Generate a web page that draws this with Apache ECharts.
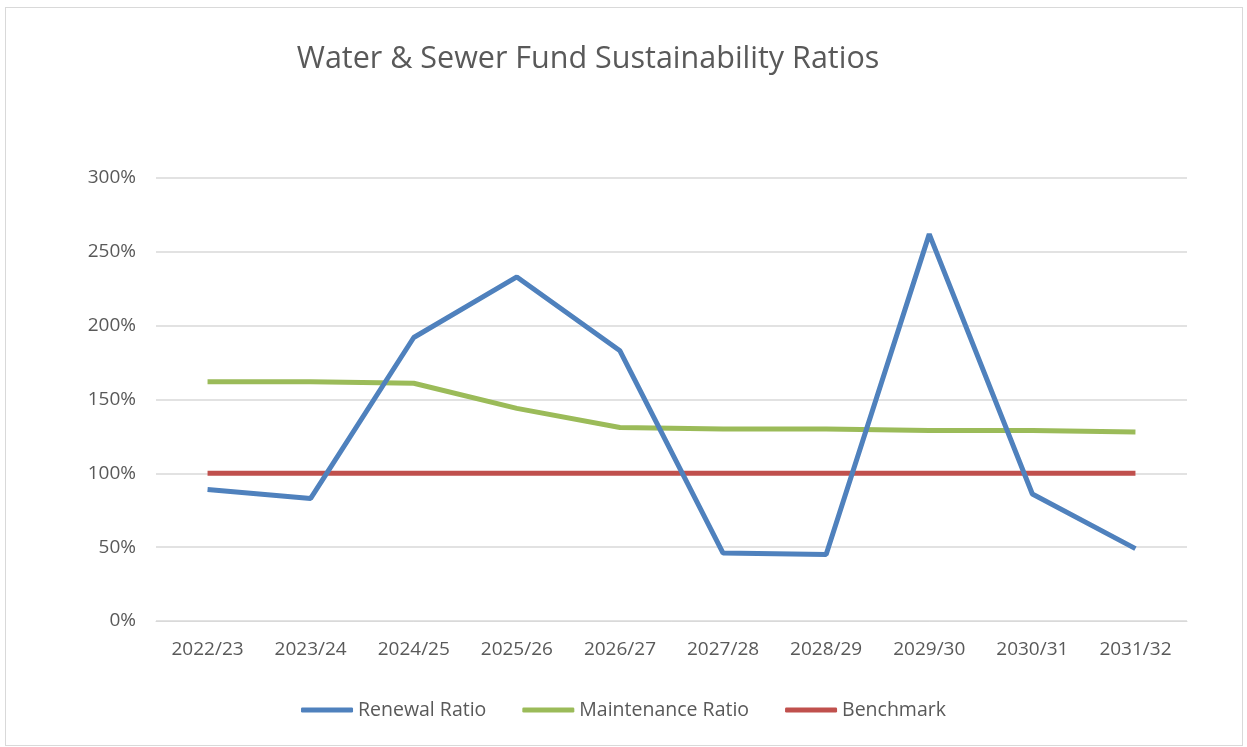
<!DOCTYPE html>
<html>
<head>
<meta charset="utf-8">
<script src="https://cdn.jsdelivr.net/npm/echarts@6/dist/echarts.min.js"></script>
<style>
html,body{margin:0;padding:0;background:#fff;}
#frame{position:absolute;left:5px;top:7px;width:1236px;height:737px;border:1px solid #d9d9d9;}
#chart{position:absolute;left:0;top:0;width:1247px;height:747px;}
</style>
</head>
<body>
<div id="frame"></div>
<div id="chart"></div>
<script>
var categories = ['2022/23','2023/24','2024/25','2025/26','2026/27','2027/28','2028/29','2029/30','2030/31','2031/32'];
var renewal = [89, 83, 192, 233, 183, 46, 45, 262, 86, 49];
var maintenance = [162, 162, 161, 144, 131, 130, 130, 129, 129, 128];
var benchmark = [100, 100, 100, 100, 100, 100, 100, 100, 100, 100];

var myChart = echarts.init(document.getElementById('chart'));
var font = '"Open Sans", sans-serif';
var option = {
    animation: false,
    title: {
        text: 'Water & Sewer Fund Sustainability Ratios',
        left: 583,
        top: 39,
        textAlign: 'center',
        textStyle: {fontFamily: font, fontSize: 30.5, fontWeight: 'normal', color: '#595959'}
    },
    legend: {
        bottom: 22,
        left: 'center',
        itemWidth: 52,
        itemHeight: 5,
        itemGap: 36,
        icon: 'roundRect',
        textStyle: {fontFamily: font, fontSize: 19.5, color: '#595959'},
        data: ['Renewal Ratio', 'Maintenance Ratio', 'Benchmark']
    },
    grid: {left: 156, right: 60, top: 178, bottom: 126, containLabel: false},
    xAxis: {
        type: 'category',
        data: categories,
        boundaryGap: true,
        axisLine: {lineStyle: {color: '#d9d9d9'}},
        axisTick: {show: false},
        axisLabel: {fontFamily: font, fontSize: 19, color: '#595959', margin: 19}
    },
    yAxis: {
        type: 'value',
        min: 0,
        max: 300,
        interval: 50,
        axisLine: {show: false},
        axisTick: {show: false},
        splitLine: {lineStyle: {color: '#d9d9d9', width: 1.5}},
        axisLabel: {fontFamily: font, fontSize: 19, color: '#595959', margin: 20, formatter: '{value}%'}
    },
    series: [
        {name: 'Renewal Ratio', type: 'line', data: renewal, symbol: 'none', color: '#4F81BD', lineStyle: {width: 5}, z: 3},
        {name: 'Maintenance Ratio', type: 'line', data: maintenance, symbol: 'none', color: '#9BBB59', lineStyle: {width: 5}, z: 2},
        {name: 'Benchmark', type: 'line', data: benchmark, symbol: 'none', color: '#C0504D', lineStyle: {width: 5}, z: 1}
    ]
};
myChart.setOption(option);
</script>
</body>
</html>
